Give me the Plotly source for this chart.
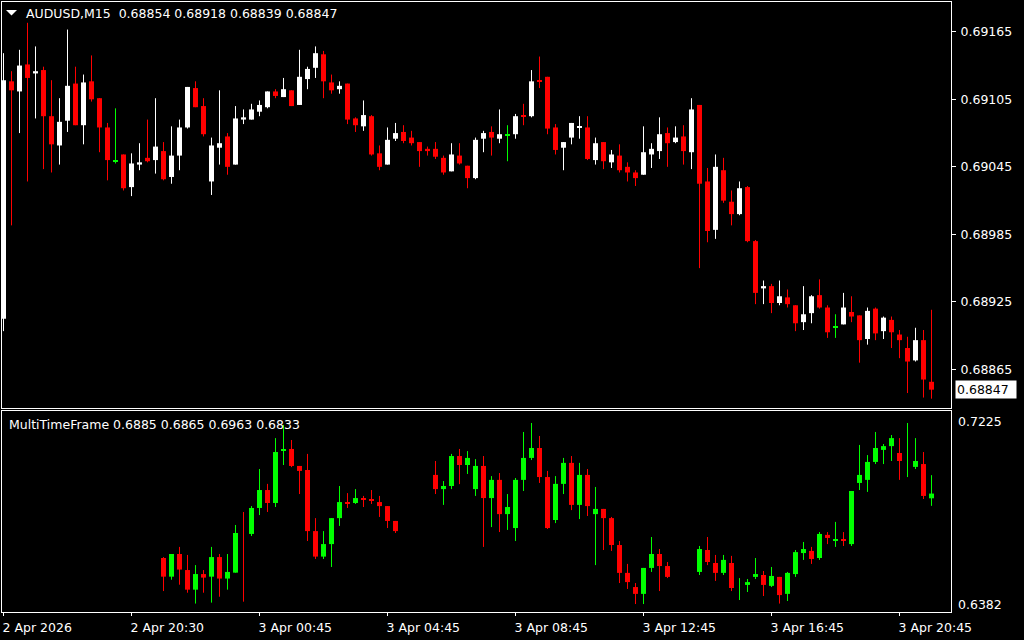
import plotly.graph_objects as go

# ---------------- data ----------------
bar_index = list(range(117))

main_open = [0.68910, 0.69121, 0.69112, 0.69136, 0.69128, 0.69131, 0.69090, 0.69064, 0.69086, 0.69119,
             0.69082, 0.69121, 0.69106, 0.69080, 0.69050, 0.69056, 0.69027, 0.69047, 0.69053, 0.69051,
             0.69059, 0.69036, 0.69055, 0.69080, 0.69115, 0.69099, 0.69032, 0.69062, 0.69072, 0.69047,
             0.69087, 0.69087, 0.69094, 0.69098, 0.69112, 0.69107, 0.69113, 0.69100, 0.69123, 0.69133,
             0.69145, 0.69120, 0.69114, 0.69119, 0.69088, 0.69081, 0.69090, 0.69057, 0.69047, 0.69070,
             0.69076, 0.69071, 0.69067, 0.69061, 0.69061, 0.69053, 0.69041, 0.69055, 0.69046, 0.69035,
             0.69070, 0.69076, 0.69070, 0.69073, 0.69074, 0.69091, 0.69090, 0.69122, 0.69125, 0.69080,
             0.69062, 0.69071, 0.69080, 0.69080, 0.69051, 0.69067, 0.69049, 0.69055, 0.69045, 0.69040,
             0.69038, 0.69056, 0.69059, 0.69075, 0.69067, 0.69072, 0.69058, 0.69100, 0.69032, 0.68989,
             0.69042, 0.69014, 0.69003, 0.69027, 0.68979, 0.68937, 0.68939, 0.68924, 0.68929, 0.68922,
             0.68907, 0.68915, 0.68931, 0.68920, 0.68903, 0.68905, 0.68916, 0.68913, 0.68892, 0.68919,
             0.68899, 0.68909, 0.68896, 0.68884, 0.68873, 0.68891, 0.68854]
main_high = [0.69146, 0.69130, 0.69149, 0.69173, 0.69152, 0.69134, 0.69122, 0.69106, 0.69167, 0.69134,
             0.69127, 0.69144, 0.69106, 0.69084, 0.69097, 0.69056, 0.69057, 0.69066, 0.69087, 0.69106,
             0.69067, 0.69081, 0.69087, 0.69116, 0.69121, 0.69106, 0.69071, 0.69113, 0.69075, 0.69099,
             0.69096, 0.69101, 0.69104, 0.69112, 0.69114, 0.69124, 0.69113, 0.69149, 0.69134, 0.69152,
             0.69148, 0.69127, 0.69121, 0.69119, 0.69089, 0.69104, 0.69091, 0.69064, 0.69080, 0.69084,
             0.69082, 0.69077, 0.69067, 0.69063, 0.69067, 0.69055, 0.69066, 0.69066, 0.69046, 0.69071,
             0.69077, 0.69081, 0.69096, 0.69082, 0.69092, 0.69101, 0.69131, 0.69143, 0.69125, 0.69083,
             0.69067, 0.69084, 0.69090, 0.69090, 0.69071, 0.69067, 0.69060, 0.69065, 0.69049, 0.69042,
             0.69081, 0.69066, 0.69089, 0.69080, 0.69081, 0.69082, 0.69106, 0.69100, 0.69044, 0.69056,
             0.69053, 0.69024, 0.69032, 0.69028, 0.68980, 0.68944, 0.68941, 0.68944, 0.68936, 0.68922,
             0.68939, 0.68931, 0.68945, 0.68922, 0.68914, 0.68933, 0.68930, 0.68913, 0.68920, 0.68920,
             0.68912, 0.68912, 0.68900, 0.68894, 0.68902, 0.68900, 0.68918]
main_low = [0.68899, 0.68993, 0.69075, 0.69032, 0.69088, 0.69043, 0.69040, 0.69047, 0.69076, 0.69082,
            0.69065, 0.69103, 0.69058, 0.69033, 0.69048, 0.69024, 0.69019, 0.69042, 0.69049, 0.69039,
            0.69033, 0.69030, 0.69042, 0.69079, 0.69098, 0.69072, 0.69020, 0.69047, 0.69038, 0.69047,
            0.69083, 0.69087, 0.69090, 0.69097, 0.69106, 0.69107, 0.69099, 0.69100, 0.69114, 0.69124,
            0.69106, 0.69110, 0.69110, 0.69083, 0.69076, 0.69077, 0.69055, 0.69042, 0.69047, 0.69068,
            0.69066, 0.69064, 0.69045, 0.69055, 0.69052, 0.69038, 0.69041, 0.69047, 0.69026, 0.69034,
            0.69058, 0.69055, 0.69066, 0.69050, 0.69070, 0.69082, 0.69089, 0.69115, 0.69074, 0.69056,
            0.69042, 0.69065, 0.69070, 0.69051, 0.69047, 0.69043, 0.69044, 0.69040, 0.69032, 0.69028,
            0.69038, 0.69044, 0.69052, 0.69045, 0.69066, 0.69047, 0.69043, 0.68955, 0.68978, 0.68981,
            0.69013, 0.68993, 0.69002, 0.68978, 0.68923, 0.68923, 0.68915, 0.68922, 0.68920, 0.68899,
            0.68900, 0.68906, 0.68919, 0.68893, 0.68893, 0.68905, 0.68907, 0.68871, 0.68887, 0.68891,
            0.68892, 0.68884, 0.68875, 0.68844, 0.68872, 0.68840, 0.68839]
main_close = [0.69122, 0.69113, 0.69135, 0.69124, 0.69130, 0.69090, 0.69065, 0.69085, 0.69117, 0.69082,
              0.69120, 0.69105, 0.69080, 0.69051, 0.69050, 0.69026, 0.69048, 0.69049, 0.69050, 0.69063,
              0.69034, 0.69055, 0.69080, 0.69116, 0.69098, 0.69074, 0.69064, 0.69066, 0.69045, 0.69088,
              0.69089, 0.69096, 0.69100, 0.69112, 0.69108, 0.69114, 0.69099, 0.69125, 0.69132, 0.69146,
              0.69121, 0.69113, 0.69117, 0.69087, 0.69082, 0.69091, 0.69056, 0.69045, 0.69069, 0.69075,
              0.69068, 0.69066, 0.69059, 0.69059, 0.69054, 0.69040, 0.69056, 0.69048, 0.69035, 0.69069,
              0.69075, 0.69071, 0.69074, 0.69073, 0.69090, 0.69090, 0.69121, 0.69121, 0.69079, 0.69060,
              0.69067, 0.69084, 0.69081, 0.69052, 0.69066, 0.69050, 0.69056, 0.69042, 0.69040, 0.69035,
              0.69058, 0.69061, 0.69074, 0.69066, 0.69071, 0.69059, 0.69096, 0.69030, 0.68988, 0.69045,
              0.69015, 0.69003, 0.69026, 0.68979, 0.68933, 0.68939, 0.68924, 0.68930, 0.68923, 0.68906,
              0.68914, 0.68930, 0.68920, 0.68898, 0.68903, 0.68920, 0.68912, 0.68891, 0.68917, 0.68897,
              0.68911, 0.68898, 0.68891, 0.68872, 0.68891, 0.68856, 0.68847]

N20 = [None] * 20
N4 = [None] * 4
N3 = [None] * 3
mtf_open = N20 + [0.6612, 0.6533, 0.6629, 0.6561, 0.6478, 0.6544, 0.6533, 0.6616, 0.6525, 0.6550,
                  None, 0.6714, 0.6824, 0.6900, 0.6845, 0.7070, 0.7074, 0.7002, 0.6985, 0.6726,
                  0.6618, 0.6671, 0.6781, 0.6849, 0.6845, 0.6866, 0.6862, 0.6849, 0.6832, 0.6769] + N4 + \
           [0.6964, 0.6904, 0.6917, 0.7044, 0.7006, 0.6904,
            0.7002, 0.6866, 0.6943, 0.6798, 0.6739, 0.6943, 0.7036, 0.7078, 0.6955, 0.6773,
            0.6926, 0.7015, 0.6837, 0.6964, 0.6798, 0.6820, 0.6781, 0.6667, 0.6549, 0.6489,
            0.6460, 0.6570, 0.6629, 0.6578] + N3 + [0.6553, 0.6646, 0.6591,
            0.6549, 0.6591, None, 0.6498, 0.6532, 0.6540, 0.6494, 0.6532, 0.6460, 0.6544,
            0.6633, 0.6642, 0.6612, 0.6710, 0.6688, 0.6690, 0.6671, 0.6930, 0.6943, 0.7019,
            0.7070, 0.7086, 0.7057, None, 0.6998, 0.7010, 0.6865]
mtf_high = N20 + [0.6616, 0.6629, 0.6659, 0.6625, 0.6582, 0.6561, 0.6659, 0.6629, 0.6629, 0.6752,
                  0.6807, 0.6832, 0.6989, 0.6926, 0.7120, 0.7176, 0.7112, 0.7002, 0.7053, 0.6781,
                  0.6726, 0.6781, 0.6917, 0.6887, 0.6904, 0.6875, 0.6900, 0.6875, 0.6832, 0.6769] + N4 + \
           [0.7023, 0.6938, 0.7053, 0.7074, 0.7065, 0.7031,
            0.7044, 0.6959, 0.6972, 0.6883, 0.6951, 0.7146, 0.7184, 0.7129, 0.6981, 0.6959,
            0.7036, 0.7044, 0.7015, 0.6989, 0.6913, 0.6820, 0.6786, 0.6684, 0.6587, 0.6506,
            0.6570, 0.6701, 0.6650, 0.6595] + N3 + [0.6663, 0.6701, 0.6625,
            0.6625, 0.6621, 0.6527, 0.6523, 0.6612, 0.6557, 0.6574, 0.6532, 0.6553, 0.6646,
            0.6680, 0.6659, 0.6722, 0.6722, 0.6765, 0.6722, 0.6896, 0.7091, 0.7048, 0.7146,
            0.7095, 0.7133, 0.7120, 0.7184, 0.7120, 0.7061, 0.6963]
mtf_low = N20 + [0.6472, 0.6520, 0.6499, 0.6465, 0.6419, 0.6465, 0.6423, 0.6448, 0.6478, 0.6550,
                 0.6427, 0.6705, 0.6794, 0.6807, 0.6828, 0.7006, 0.6997, 0.6883, 0.6684, 0.6608,
                 0.6608, 0.6574, 0.6748, 0.6824, 0.6841, 0.6828, 0.6841, 0.6786, 0.6739, 0.6718] + N4 + \
          [0.6883, 0.6837, 0.6904, 0.6925, 0.6968, 0.6875,
           0.6659, 0.6743, 0.6722, 0.6731, 0.6684, 0.6896, 0.7027, 0.6930, 0.6735, 0.6760,
           0.6883, 0.6815, 0.6777, 0.6790, 0.6582, 0.6646, 0.6642, 0.6506, 0.6481, 0.6417,
           0.6417, 0.6553, 0.6472, 0.6527] + N3 + [0.6540, 0.6582, 0.6515,
           0.6540, 0.6472, 0.6434, 0.6468, 0.6523, 0.6451, 0.6489, 0.6419, 0.6430, 0.6532,
           0.6604, 0.6587, 0.6604, 0.6671, 0.6659, 0.6663, 0.6663, 0.6900, 0.6892, 0.7010,
           0.7010, 0.7023, 0.6943, 0.6955, 0.6989, 0.6862, 0.6833]
mtf_close = N20 + [0.6533, 0.6629, 0.6563, 0.6478, 0.6544, 0.6529, 0.6616, 0.6525, 0.6553, 0.6718,
                   None, 0.6824, 0.6900, 0.6845, 0.7061, 0.7070, 0.7002, 0.6981, 0.6726, 0.6618,
                   0.6671, 0.6781, 0.6849, 0.6845, 0.6866, 0.6862, 0.6854, 0.6832, 0.6769, 0.6726] + N4 + \
            [0.6904, 0.6917, 0.7044, 0.7006, 0.7036, 0.7002,
             0.6866, 0.6943, 0.6798, 0.6828, 0.6943, 0.7036, 0.7078, 0.6955, 0.6739, 0.6926,
             0.7015, 0.6837, 0.6964, 0.6832, 0.6820, 0.6781, 0.6667, 0.6549, 0.6510, 0.6460,
             0.6570, 0.6629, 0.6578, 0.6532] + N3 + [0.6650, 0.6595, 0.6549,
             0.6604, 0.6485, None, 0.6510, 0.6544, 0.6498, 0.6536, 0.6455, 0.6549, 0.6637,
             0.6650, 0.6608, 0.6714, 0.6697, 0.6688, 0.6687, 0.6896, 0.6964, 0.7019, 0.7078,
             0.7086, 0.7120, 0.7023, None, 0.7023, 0.6875, 0.6885]
# bars of the indicator drawn as a bare line (no body): direction of each
mtf_line_only = {30: "down", 92: "up", 113: "up"}

time_tick_bars = [0, 16, 32, 48, 64, 80, 96, 112]
time_tick_labels = ["2 Apr 2026", "2 Apr 20:30", "3 Apr 00:45", "3 Apr 04:45",
                    "3 Apr 08:45", "3 Apr 12:45", "3 Apr 16:45", "3 Apr 20:45"]
price_ticks = [0.69165, 0.69105, 0.69045, 0.68985, 0.68925, 0.68865]
mtf_scale_labels = ["0.7225", "0.6382"]
main_title = "AUDUSD,M15\u00a0\u00a00.68854 0.68918 0.68839 0.68847"
mtf_title = "MultiTimeFrame 0.6885 0.6865 0.6963 0.6833"
last_price = 0.68847

# ---------------- layout geometry ----------------
W, H = 1024, 640
PL, PR, PT, PB = 2, 73, 2, 28
plot_w = W - PL - PR
plot_h = H - PT - PB


def px_x(px):
    return (px - PL) / plot_w


def px_y(py):
    return (H - PB - py) / plot_h


FONT = "DejaVu Sans"
FS = 12.5


def candle_traces(opens, highs, lows, closes, colors, min_body, xa, ya, line_only=None):
    cats = {k: {"x": [], "base": [], "h": [], "wx": [], "wy": []} for k in colors}
    for i in bar_index:
        hi, lo = highs[i], lows[i]
        if hi is None:
            continue
        o, c = opens[i], closes[i]
        if o is None:
            k = line_only[i]
        elif c > o:
            k = "up"
        elif c < o:
            k = "down"
        else:
            k = "doji"
        d = cats[k]
        d["wx"] += [i, i, None]
        d["wy"] += [lo, hi, None]
        if o is not None:
            h = abs(c - o)
            if h < min_body:
                d["base"].append((o + c) / 2 - min_body / 2)
                d["h"].append(min_body)
            else:
                d["base"].append(min(o, c))
                d["h"].append(h)
            d["x"].append(i)
    out = []
    for k, d in cats.items():
        out.append(go.Scatter(x=d["wx"], y=d["wy"], mode="lines",
                              line=dict(color=colors[k], width=1),
                              xaxis=xa, yaxis=ya, hoverinfo="skip"))
        out.append(go.Bar(x=d["x"], y=d["h"], base=d["base"], width=0.625,
                          marker=dict(color=colors[k], line=dict(width=0)),
                          xaxis=xa, yaxis=ya, hoverinfo="skip"))
    return out


fig = go.Figure()
for t in candle_traces(main_open, main_high, main_low, main_close,
                       {"up": "#FFFFFF", "down": "#FF0000", "doji": "#00FF00"},
                       0.0000095, "x2", "y"):
    fig.add_trace(t)
for t in candle_traces(mtf_open, mtf_high, mtf_low, mtf_close,
                       {"up": "#00FF00", "down": "#FF0000", "doji": "#00FF00"},
                       0.00045, "x", "y2", mtf_line_only):
    fig.add_trace(t)

main_bottom = px_y(408)
bot_top = px_y(411)
x_range = [-0.1875, 118.4375]

axis_common = dict(showgrid=False, zeroline=False, showline=True, mirror=True,
                   linecolor="#FFFFFF", linewidth=1, tickcolor="#FFFFFF")

fig.update_layout(
    width=W, height=H,
    margin=dict(l=PL, r=PR, t=PT, b=PB, autoexpand=False),
    paper_bgcolor="#000000", plot_bgcolor="#000000",
    barmode="overlay", showlegend=False, hovermode=False,
    font=dict(family=FONT, size=FS, color="#FFFFFF"),
    xaxis=dict(domain=[0, 1], anchor="y2", range=x_range, tickmode="array",
               tickvals=time_tick_bars, ticktext=time_tick_labels,
               ticks="outside", ticklen=3, ticklabelposition="outside right",
               ticklabelstandoff=4, ticklabelshift=-2,
               tickfont=dict(family=FONT, size=FS, color="#FFFFFF"), **axis_common),
    xaxis2=dict(domain=[0, 1], anchor="y", matches="x", showticklabels=False,
                ticks="", **axis_common),
    yaxis=dict(domain=[main_bottom, 1], anchor="x2", side="right",
               range=[0.6883071, 0.6919148], tickmode="array",
               tickvals=price_ticks, ticktext=[f"{v:.5f}" for v in price_ticks],
               ticks="outside", ticklen=4, ticklabelstandoff=2,
               tickfont=dict(family=FONT, size=FS, color="#FFFFFF"), **axis_common),
    yaxis2=dict(domain=[0, bot_top], anchor="x", side="right",
                range=[0.63833, 0.72348], showticklabels=False, ticks="",
                **axis_common),
)

annotations = [
    dict(text=main_title, xref="paper", yref="paper", x=px_x(24), y=px_y(14),
         xanchor="left", yanchor="middle", showarrow=False,
         font=dict(family=FONT, size=FS, color="#FFFFFF")),
    dict(text=mtf_title, xref="paper", yref="paper", x=px_x(7), y=px_y(424),
         xanchor="left", yanchor="middle", showarrow=False,
         font=dict(family=FONT, size=FS, color="#FFFFFF")),
    dict(text=f"{last_price:.5f}", xref="paper", yref="y", x=1, y=last_price,
         xanchor="left", yanchor="middle", xshift=4, showarrow=False,
         bgcolor="#FFFFFF", borderpad=1, width=58, align="left",
         font=dict(family=FONT, size=FS, color="#000000")),
    dict(text=mtf_scale_labels[0], xref="paper", yref="paper", x=1, y=px_y(421),
         xanchor="left", yanchor="middle", xshift=5, showarrow=False,
         font=dict(family=FONT, size=FS, color="#FFFFFF")),
    dict(text=mtf_scale_labels[1], xref="paper", yref="paper", x=1, y=px_y(604),
         xanchor="left", yanchor="middle", xshift=5, showarrow=False,
         font=dict(family=FONT, size=FS, color="#FFFFFF")),
]
fig.update_layout(annotations=annotations)

tri = f"M {px_x(6)},{px_y(10)} L {px_x(17)},{px_y(10)} L {px_x(11.5)},{px_y(15.5)} Z"
fig.update_layout(shapes=[dict(type="path", xref="paper", yref="paper", path=tri,
                               fillcolor="#FFFFFF", line=dict(width=0))])

fig.write_html("out.html", config={"displayModeBar": False},
               post_script="document.body.style.margin='0';document.body.style.background='#000';")
